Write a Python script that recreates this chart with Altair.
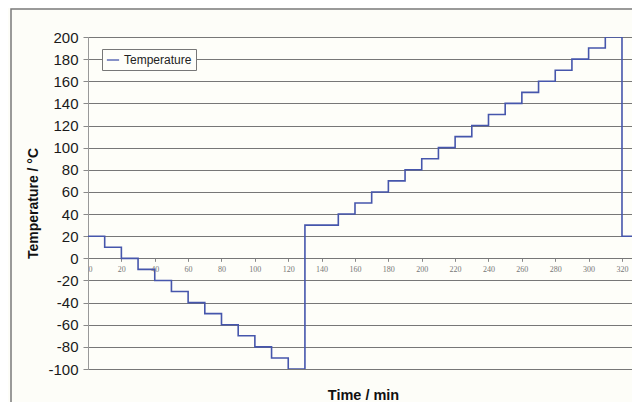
import altair as alt
import pandas as pd

# Data
times = [0, 10, 20, 30, 40, 50, 60, 70, 80, 90, 100, 110, 120, 130,
         150, 160, 170, 180, 190, 200, 210, 220, 230, 240, 250, 260, 270,
         280, 290, 300, 310, 320, 326]
temps = [20, 10, 0, -10, -20, -30, -40, -50, -60, -70, -80, -90, -100, 30,
         40, 50, 60, 70, 80, 90, 100, 110, 120, 130, 140, 150, 160,
         170, 180, 190, 200, 20, 20]
series_name = "Temperature"
x_ticks = list(range(0, 321, 20))
y_ticks = list(range(-100, 201, 20))

df = pd.DataFrame({"t": times, "temp": temps, "series": [series_name] * len(times)})

W, H = 544, 332
FONT = "Liberation Sans"

frame = alt.Chart(pd.DataFrame({"a": [0]})).mark_rect(
    fill=None, stroke="#7a7a7a", strokeWidth=1.5
).encode(
    x=alt.value(-77), x2=alt.value(W + 60),
    y=alt.value(-28), y2=alt.value(H + 80),
)

line = alt.Chart(df).mark_line(
    interpolate="step-after", strokeWidth=1.6, clip=True
).encode(
    x=alt.X("t:Q",
            scale=alt.Scale(domain=[0, 326], nice=False, zero=False),
            axis=alt.Axis(values=x_ticks, offset=-(H * 100 / 300), grid=False,
                          domain=False, tickColor="#888", tickSize=3,
                          labelFont="Liberation Sans Narrow", labelFontSize=8,
                          labelColor="#777", labelPadding=4,
                          title="Time / min", titleFont=FONT, titleFontSize=14.5,
                          titleFontWeight="bold", titleColor="#111",
                          titleY=137, titleX=W / 2 + 3, titleBaseline="middle",
                          titleAnchor="middle")),
    y=alt.Y("temp:Q",
            scale=alt.Scale(domain=[-100, 200], nice=False, zero=False),
            axis=alt.Axis(values=y_ticks, grid=True, gridColor="#777",
                          gridWidth=1, gridOpacity=1, domainColor="#999",
                          tickColor="#888", tickSize=5,
                          labelExpr="'' + datum.value",
                          labelFont=FONT, labelFontSize=15, labelColor="#1a1a1a",
                          labelPadding=5,
                          title="Temperature / °C", titleFont=FONT,
                          titleFontSize=14, titleFontWeight="bold",
                          titleColor="#111", titlePadding=7)),
    color=alt.Color("series:N",
                    scale=alt.Scale(domain=[series_name], range=["#4656ac"]),
                    legend=alt.Legend(orient="none", legendX=14, legendY=12,
                                      title=None, symbolType="stroke",
                                      symbolSize=150, symbolStrokeWidth=1.3,
                                      labelFont=FONT, labelFontSize=12,
                                      labelColor="#222", labelOffset=4,
                                      padding=4, strokeColor="#777",
                                      fillColor="#fefefa")),
)

chart = alt.layer(frame, line).properties(
    width=W, height=H,
    autosize=alt.AutoSizeParams(type="none"),
    padding={"left": 80, "top": 29, "right": 0, "bottom": 33},
    background="#fdfdf8",
).configure_view(
    fill="#fefef9", stroke="#bbbbbb", strokeWidth=1
)

chart.save("out.html", embed_options={"renderer": "svg", "actions": False})
